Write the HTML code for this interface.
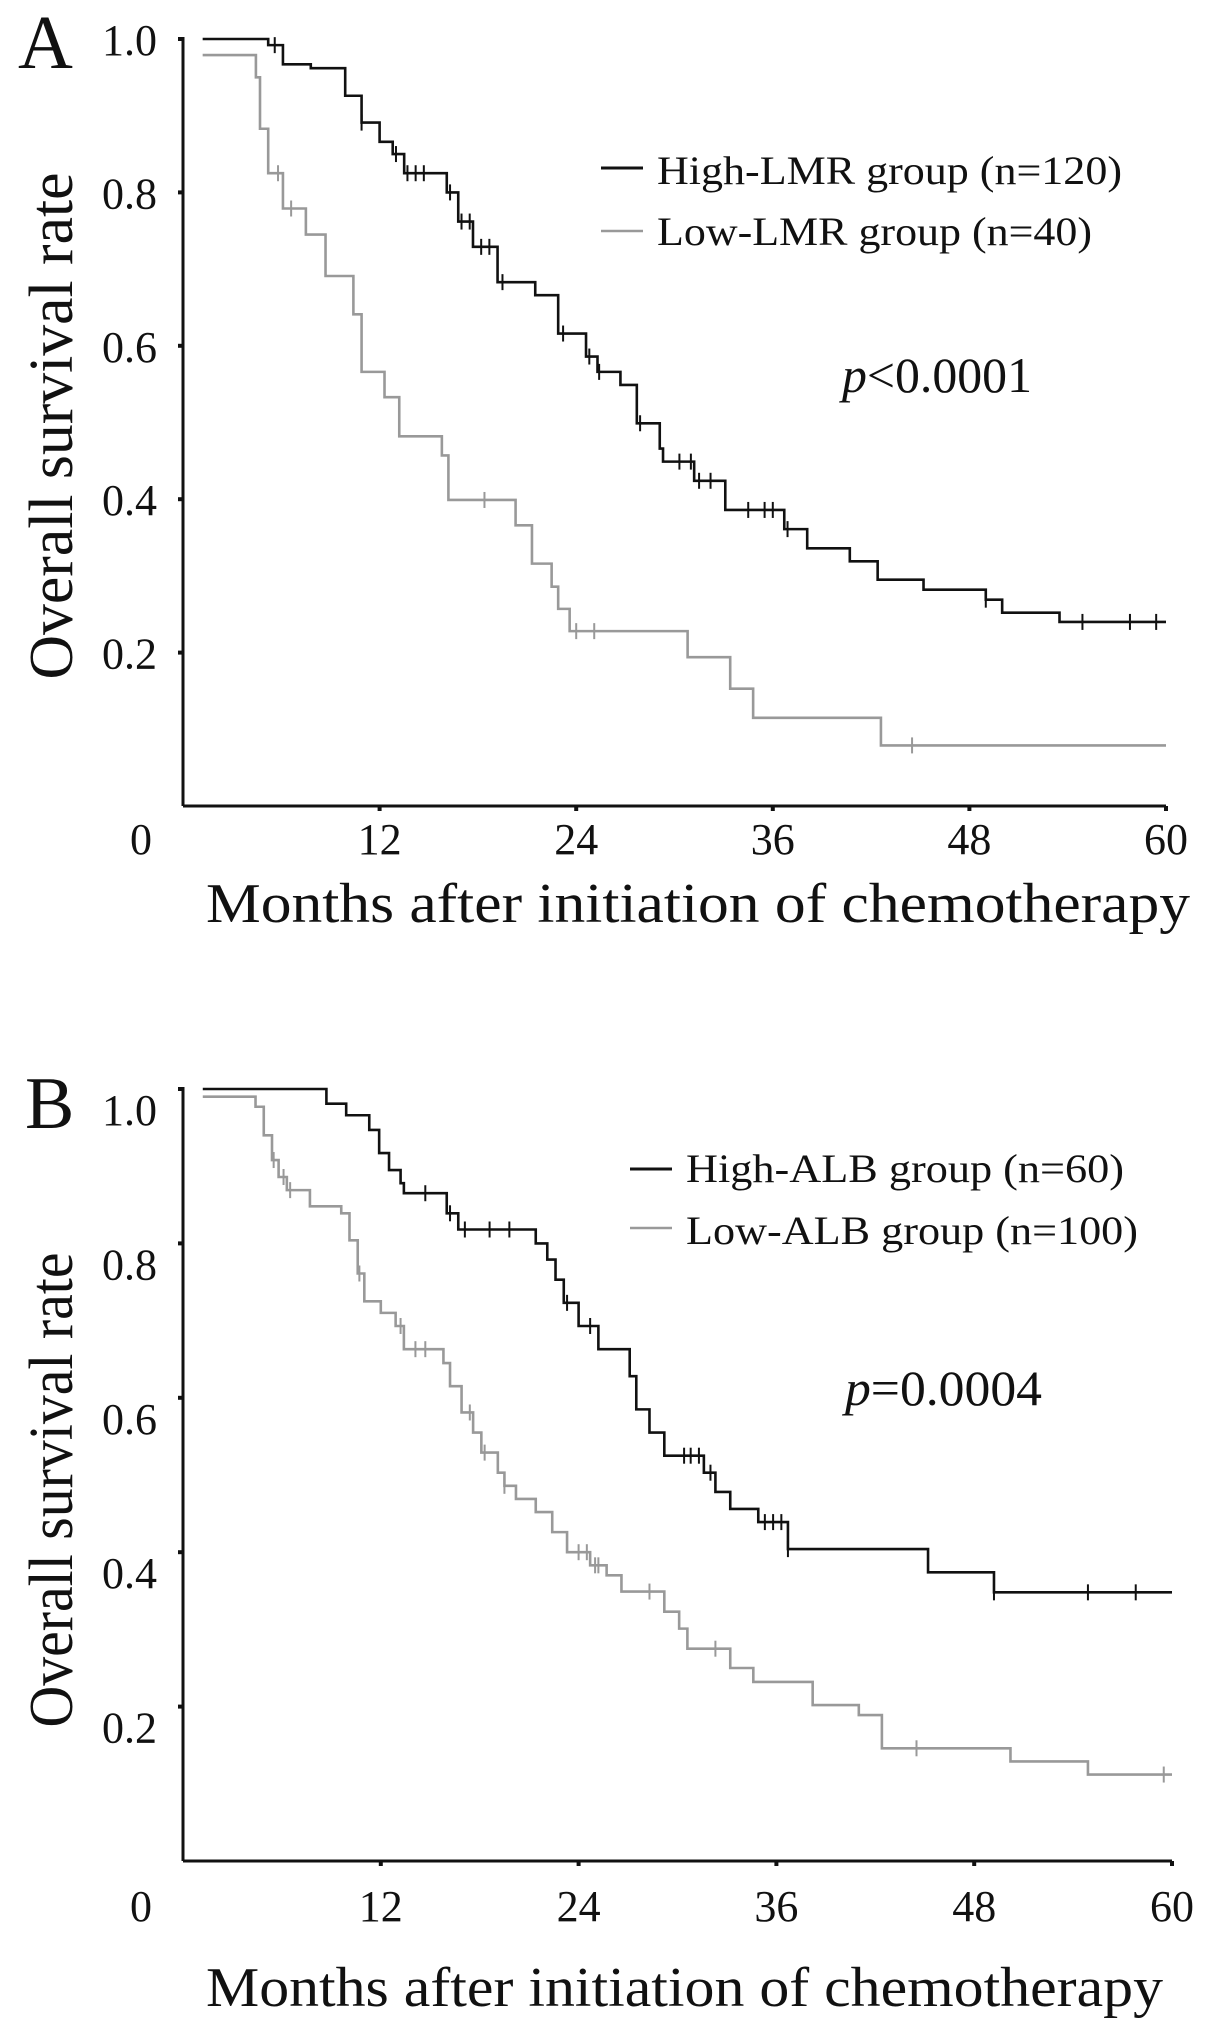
<!DOCTYPE html>
<html><head><meta charset="utf-8"><style>
html,body{margin:0;padding:0;background:#fff;}
svg{display:block;font-family:"Liberation Serif",serif;}
svg text{font-family:"Liberation Serif",serif;}
</style></head><body>
<svg id="chart" width="1218" height="2041" viewBox="0 0 1218 2041" xmlns="http://www.w3.org/2000/svg">
<rect width="1218" height="2041" fill="#fff"/>
</svg>
<script>
// ---- Panel A data ----
const aHighTimes = [1.2,5.2,6.1,7.8,9.9,10.9,12.0,12.8,13.5,16.1,16.8,17.7,19.2,21.5,22.9,24.6,25.3,26.7,27.7,29.1,29.3,31.2,33.1,36.7,38.1,40.7,42.4,45.2,49.0,50.0,53.5];
const aHighSurv  = [1.0,0.992,0.967,0.962,0.926,0.891,0.866,0.85,0.825,0.80,0.762,0.729,0.683,0.666,0.616,0.586,0.566,0.549,0.499,0.466,0.449,0.424,0.386,0.361,0.336,0.319,0.295,0.282,0.269,0.252,0.240];
const aHighCens  = [5.6,10.9,13.0,13.7,14.2,14.7,16.3,17.0,17.5,18.2,18.7,19.5,23.2,24.8,25.4,27.9,30.3,31.0,31.5,32.2,34.5,35.5,36.0,36.9,49.0,54.9,57.8,59.4];
const aLowTimes  = [1.2,4.45,4.7,5.2,6.1,7.5,8.7,10.4,10.9,12.3,13.2,15.8,16.2,20.3,21.3,22.5,22.9,23.6,30.8,33.4,34.8,42.6];
const aLowSurv   = [0.979,0.95,0.883,0.825,0.779,0.745,0.691,0.641,0.566,0.533,0.482,0.457,0.399,0.366,0.316,0.286,0.257,0.228,0.194,0.153,0.115,0.079];
const aLowCens   = [5.8,6.6,18.4,24.0,25.1,44.5];
// ---- Panel B data ----
const bHighTimes = [1.2,8.7,9.9,11.3,11.9,12.5,13.2,13.4,16.0,16.7,21.4,22.1,22.6,23.1,24.0,25.2,27.1,27.5,28.3,29.2,31.6,32.3,33.2,34.9,36.7,45.2,49.2];
const bHighSurv  = [1.0,0.981,0.966,0.947,0.917,0.895,0.878,0.865,0.839,0.818,0.80,0.779,0.753,0.723,0.693,0.663,0.628,0.585,0.555,0.525,0.503,0.478,0.456,0.439,0.404,0.374,0.348];
const bHighCens  = [14.7,16.2,17.1,18.6,19.8,23.3,24.7,30.4,30.8,31.3,32.0,35.3,35.8,36.3,36.7,49.2,54.9,57.8];
const bLowTimes  = [1.2,4.4,4.9,5.4,5.8,6.3,7.7,9.6,10.1,10.6,11.0,12.0,12.9,13.4,15.8,16.2,16.9,17.6,18.1,19.1,19.5,20.2,21.4,22.4,23.3,24.7,25.7,26.6,29.2,30.1,30.6,33.2,34.6,38.2,41.0,42.4,50.2,54.9];
const bLowSurv   = [0.99,0.977,0.94,0.908,0.886,0.869,0.848,0.839,0.804,0.761,0.725,0.71,0.693,0.663,0.645,0.615,0.581,0.555,0.529,0.503,0.486,0.469,0.452,0.426,0.40,0.383,0.37,0.349,0.323,0.301,0.275,0.25,0.232,0.202,0.189,0.146,0.129,0.112];
const bLowCens   = [5.5,6.1,6.5,10.7,13.2,14.1,14.7,17.4,18.3,19.5,24.0,24.5,25.0,25.2,28.3,32.3,44.5,59.5];
// ---- axes ----
const xTickVals = [0,12,24,36,48,60];
const yTickVals = [0.2,0.4,0.6,0.8,1.0];
const yTickLabels = ["0.2","0.4","0.6","0.8","1.0"];
const endMonth = 60;

const svg = document.getElementById('chart');
const NS = 'http://www.w3.org/2000/svg';
const FONT = '"Liberation Serif", serif';
function mk(tag, attrs, parent){
  const e = document.createElementNS(NS, tag);
  for (const k in attrs) e.setAttribute(k, attrs[k]);
  (parent||svg).appendChild(e);
  return e;
}
function survAt(times, surv, t){
  let v = surv[0];
  for (let i=0;i<times.length;i++){ if (times[i] <= t) v = surv[i]; }
  return v;
}
function panel(cfg){
  const g = mk('g', {});
  
  
  const x = m => cfg.x0 + (cfg.x1 - cfg.x0) * m / 60;
  const y = v => cfg.yb - (cfg.yb - cfg.yt) * v;
  const yax = mk('line', {x1:cfg.x0, y1:cfg.yt-2, x2:cfg.x0, y2:cfg.yb, stroke:'#111','stroke-width':3}, g);
  
  
  const xax = mk('line', {x1:cfg.x0, y1:cfg.yb, x2:x(60), y2:cfg.yb, stroke:'#111','stroke-width':3}, g);
  
  
  yTickVals.forEach((v,i)=>{
    mk('line', {x1:cfg.x0-5, y1:y(v), x2:cfg.x0, y2:y(v), stroke:'#111','stroke-width':4}, g);
    const t = mk('text', {x:cfg.x0-26, y:y(v)+cfg.labOff, 'font-size':44, 'text-anchor':'end', fill:'#111', 'font-family':FONT}, g);
    t.textContent = yTickLabels[i];
    
    
  });
  xTickVals.forEach(m=>{
    if (m>0) mk('line', {x1:x(m), y1:cfg.yb, x2:x(m), y2:cfg.yb+5, stroke:'#111','stroke-width':4}, g);
    const t = mk('text', {x: m===0 ? 141 : x(m), y:cfg.xLabY, 'font-size':44, 'text-anchor':'middle', fill:'#111', 'font-family':FONT}, g);
    t.textContent = String(m);
    
    
  });
  cfg.series.forEach(s=>{
    let d = 'M' + x(s.t[0]) + ' ' + y(s.s[0]);
    for (let i=1;i<s.t.length;i++){ d += ' H' + x(s.t[i]) + ' V' + y(s.s[i]); }
    d += ' H' + x(endMonth);
    const p = mk('path', {d:d, fill:'none', stroke:s.color, 'stroke-width':2.6}, g);
    
    
    s.c.forEach(ct=>{
      const cy = y(survAt(s.t, s.s, ct));
      const m = mk('line', {x1:x(ct), y1:cy-8, x2:x(ct), y2:cy+8, stroke:s.color, 'stroke-width':2}, g);
      
      
    });
  });
}
panel({name:'panel-a-chart', x0:183, x1:1166, yt:39, yb:806, labOff:16, xLabY:854, series:[
  {name:'low-lmr', color:'#999', t:aLowTimes, s:aLowSurv, c:aLowCens},
  {name:'high-lmr', color:'#111', t:aHighTimes, s:aHighSurv, c:aHighCens}]});
panel({name:'panel-b-chart', x0:183, x1:1172, yt:1089, yb:1861, labOff:36, xLabY:1921, series:[
  {name:'low-alb', color:'#999', t:bLowTimes, s:bLowSurv, c:bLowCens},
  {name:'high-alb', color:'#111', t:bHighTimes, s:bHighSurv, c:bHighCens}]});
</script>
<svg style="position:absolute;left:0;top:0" width="1218" height="2041" viewBox="0 0 1218 2041" xmlns="http://www.w3.org/2000/svg" font-family="'Liberation Serif', serif" fill="#111">
  <text x="18" y="68" font-size="76">A</text>
  <text transform="translate(72,426) rotate(-90)" text-anchor="middle" font-size="62" textLength="507" lengthAdjust="spacingAndGlyphs">Overall survival rate</text>
  <text x="206" y="922" font-size="56" textLength="984" lengthAdjust="spacingAndGlyphs">Months after initiation of chemotherapy</text>
  <line x1="601" y1="168" x2="643" y2="168" stroke="#111" stroke-width="3"/>
  <text x="657" y="184" font-size="40" textLength="465" lengthAdjust="spacingAndGlyphs">High-LMR  group (n=120)</text>
  <line x1="601" y1="231" x2="643" y2="231" stroke="#999" stroke-width="2.5"/>
  <text x="657" y="245" font-size="40" textLength="435" lengthAdjust="spacingAndGlyphs">Low-LMR  group (n=40)</text>
  <text x="842" y="392" font-size="50" textLength="190" lengthAdjust="spacingAndGlyphs"><tspan font-style="italic">p</tspan>&lt;0.0001</text>
  <text x="25" y="1128" font-size="74">B</text>
  <text transform="translate(72,1490) rotate(-90)" text-anchor="middle" font-size="62" textLength="475" lengthAdjust="spacingAndGlyphs">Overall survival rate</text>
  <text x="206" y="2006" font-size="56" textLength="957" lengthAdjust="spacingAndGlyphs">Months after initiation of chemotherapy</text>
  <line x1="630" y1="1169" x2="672" y2="1169" stroke="#111" stroke-width="3"/>
  <text x="686" y="1182" font-size="40" textLength="438" lengthAdjust="spacingAndGlyphs">High-ALB  group (n=60)</text>
  <line x1="630" y1="1228" x2="672" y2="1228" stroke="#999" stroke-width="2.5"/>
  <text x="686" y="1244" font-size="40" textLength="452" lengthAdjust="spacingAndGlyphs">Low-ALB  group (n=100)</text>
  <text x="845" y="1405" font-size="50" textLength="197" lengthAdjust="spacingAndGlyphs"><tspan font-style="italic">p</tspan>=0.0004</text>
</svg>
</body></html>
